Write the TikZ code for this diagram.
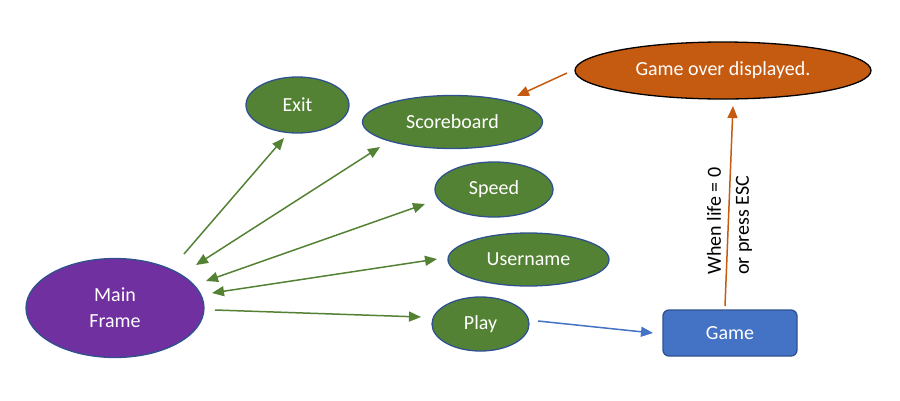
\documentclass[tikz,border=0pt]{standalone}
\usepackage{fontspec}
\setmainfont{Carlito}
\usetikzlibrary{shapes.geometric,arrows.meta}
\definecolor{grn}{HTML}{548235}
\definecolor{edgeblue}{HTML}{2F528F}
\definecolor{purp}{HTML}{7030A0}
\definecolor{orng}{HTML}{C55A11}
\definecolor{blu}{HTML}{4472C4}
\begin{document}
\begin{tikzpicture}[x=1pt,y=-1pt,
  oval/.style={ellipse, draw=edgeblue, line width=1.3pt, fill=grn, text=white, inner sep=0pt,
    font=\fontsize{20}{26}\selectfont, align=center},
  boxnode/.style={rectangle, rounded corners=6pt, draw=edgeblue, line width=1.3pt, fill=blu,
    text=white, inner sep=0pt, font=\fontsize{20}{26}\selectfont},
  tipA/.tip={Triangle[length=12pt,width=10pt]},
  link/.style={line width=1.5pt, draw=grn, -tipA},
  dlink/.style={line width=1.5pt, draw=grn, tipA-tipA},
  olink/.style={line width=1.5pt, draw=orng, -tipA},
  blink/.style={line width=1.5pt, draw=blu, -tipA}
]
\useasboundingbox (0,0) rectangle (900,400);

\node[oval, fill=purp, minimum width=178pt, minimum height=99pt] (main) at (115,308) {Main\\Frame};
\node[oval, minimum width=103pt, minimum height=56pt] (exit) at (297.5,105) {Exit};
\node[oval, minimum width=180pt, minimum height=53pt] (score) at (452.5,122) {Scoreboard};
\node[oval, minimum width=118pt, minimum height=55pt] (speed) at (494,189.5) {Speed};
\node[oval, minimum width=161pt, minimum height=53pt] (user) at (528.5,259.5) {Username};
\node[oval, minimum width=97pt, minimum height=54pt] (play) at (480.5,324) {Play};
\node[boxnode, minimum width=134pt, minimum height=46pt] (game) at (730,333) {Game};
\node[oval, fill=orng, draw=black, minimum width=296pt, minimum height=57pt] (over) at (723,70.5) {Game over displayed.};
\node[rotate=90, align=left, inner sep=0pt, font=\fontsize{20}{28}\selectfont] (cond) at (729.5,221) {When life = 0\\or press ESC};

\coordinate (mExit) at (184,254);
\coordinate (exitIn) at (284,138);
\coordinate (scoreIn) at (380,147);
\coordinate (mScore) at (196,265);
\coordinate (speedIn) at (425,204);
\coordinate (mSpeed) at (206,281);
\coordinate (userIn) at (437,259);
\coordinate (mUser) at (212,293);
\coordinate (mPlay) at (215,310);
\coordinate (playIn) at (421,317);
\coordinate (playOut) at (538,321);
\coordinate (gameIn) at (653,333);
\coordinate (gameOut) at (725,306);
\coordinate (overIn) at (733,106);
\coordinate (overOut) at (567,73);
\coordinate (scoreTop) at (517,96);

\draw[link] (mExit) -- (exitIn);
\draw[dlink] (mScore) -- (scoreIn);
\draw[dlink] (mSpeed) -- (speedIn);
\draw[dlink] (mUser) -- (userIn);
\draw[link] (mPlay) -- (playIn);
\draw[blink] (playOut) -- (gameIn);
\draw[olink] (gameOut) -- (overIn);
\draw[olink] (overOut) -- (scoreTop);
\end{tikzpicture}
\end{document}
